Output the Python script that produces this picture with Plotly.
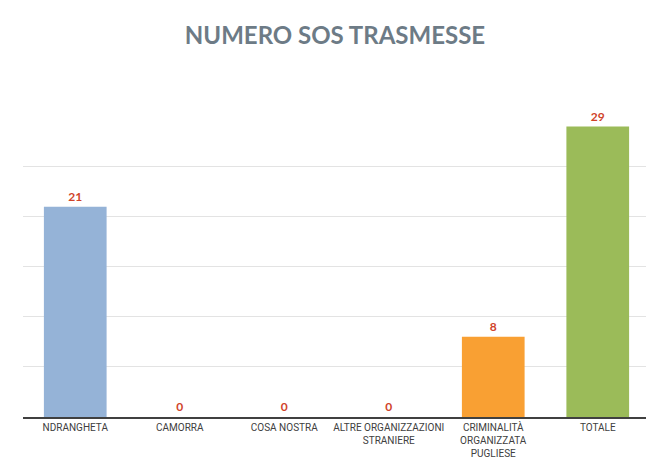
import plotly.graph_objects as go

categories = [
    "NDRANGHETA",
    "CAMORRA",
    "COSA NOSTRA",
    "ALTRE ORGANIZZAZIONI<br>STRANIERE",
    "CRIMINALITÀ<br>ORGANIZZATA<br>PUGLIESE",
    "TOTALE",
]
values = [21, 0, 0, 0, 8, 29]
bar_colors = ["#95b3d7", "#95b3d7", "#95b3d7", "#95b3d7", "#f9a033", "#9bbb59"]

fig = go.Figure(
    go.Bar(
        x=categories,
        y=values,
        width=0.6,
        marker=dict(color=bar_colors, line=dict(width=0)),
        texttemplate="<b>%{y}</b>",
        textposition="outside",
        textfont=dict(family="Lato, Open Sans, sans-serif", size=12, color="#d0432a"),
        cliponaxis=False,
        hoverinfo="x+y",
    )
)

# the page body adds ~8px around the plot, so margins are shifted to compensate
fig.update_layout(
    width=654,
    height=462,
    title=dict(
        text="<b>NUMERO SOS TRASMESSE</b>",
        x=0.5,
        xanchor="center",
        yref="container",
        y=0.94,
        yanchor="middle",
        font=dict(family="Lato, Open Sans, sans-serif", size=24, color="#6d7b86"),
    ),
    plot_bgcolor="white",
    paper_bgcolor="white",
    showlegend=False,
    margin=dict(l=15, r=12, t=108, b=53, autoexpand=False),
    bargap=0.4,
)
fig.update_xaxes(
    showline=True,
    linecolor="#404040",
    linewidth=2,
    ticks="",
    automargin=False,
    tickfont=dict(family="Liberation Sans Narrow, Roboto, sans-serif", size=10, color="#404040"),
)
fig.update_yaxes(
    range=[0, 30.05],
    dtick=5,
    showgrid=True,
    gridcolor="#e3e3e3",
    gridwidth=1,
    showticklabels=False,
    zeroline=False,
    automargin=False,
)

fig.write_html("out.html")
